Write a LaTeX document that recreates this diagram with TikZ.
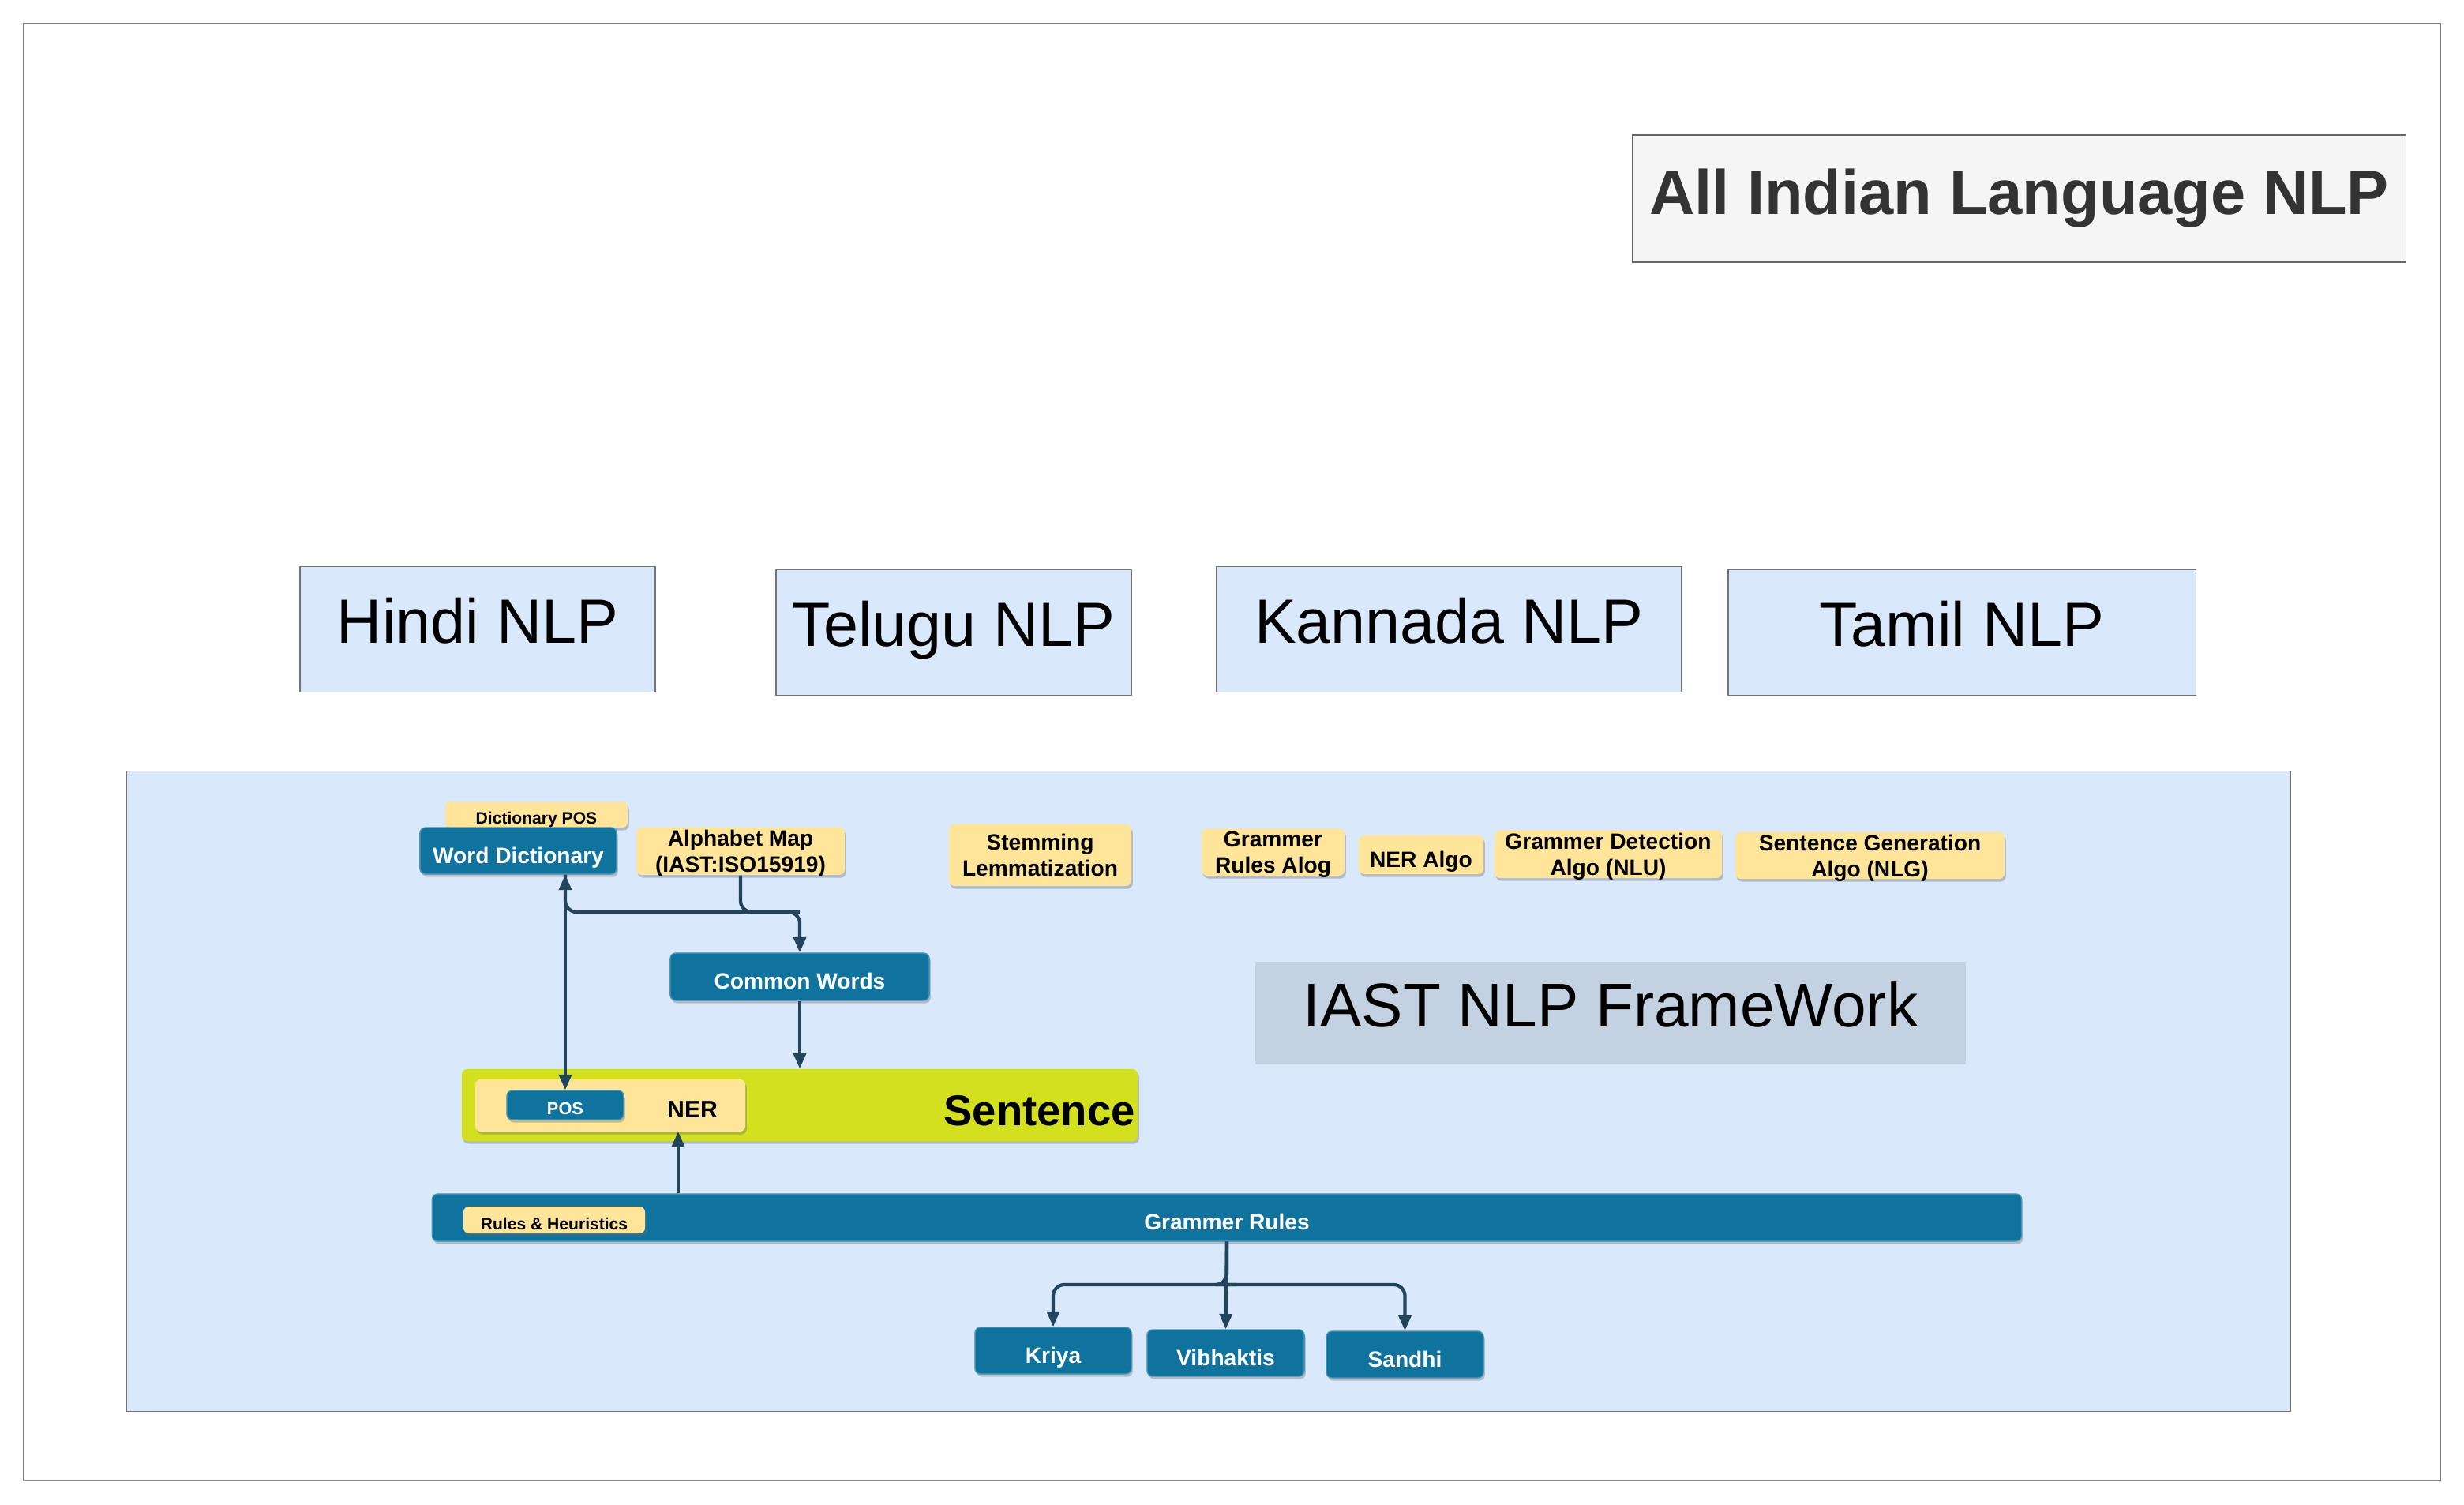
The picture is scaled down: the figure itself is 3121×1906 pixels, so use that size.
\documentclass[tikz,border=0pt]{standalone}
\usepackage{fontspec}
\setmainfont{Liberation Sans}
\definecolor{blockColor}{HTML}{10739E}
\definecolor{noteColor}{HTML}{FFE599}
\definecolor{langColor}{HTML}{DAE8FC}
\definecolor{sentenceColor}{HTML}{D3E01F}
\definecolor{pathColor}{HTML}{23445D}
\definecolor{labelColor}{HTML}{C4D1E1}
\definecolor{titleColor}{HTML}{F5F5F5}
\usetikzlibrary{arrows.meta, shadows}
\tikzset{
    softShadow/.style = {drop shadow={shadow xshift=0.5pt, shadow yshift=-1pt, fill=black!60, opacity=0.35}},
    blockNode/.style = {rectangle, rounded corners=2pt, draw=blockColor!75!white, fill=blockColor, text=white, softShadow, align=center, inner sep=0pt, text height=9pt, text depth=0pt, font=\bfseries\fontsize{8}{9.5}\selectfont},
    noteNode/.style = {blockNode, draw=none, fill=noteColor, text=black, font=\bfseries\fontsize{8}{9.4}\selectfont},
    multiNoteNode/.style = {noteNode, text height=, text depth=-1.6pt},
    tinyNoteNode/.style = {noteNode, text height=7pt, font=\bfseries\fontsize{6}{7}\selectfont},
    langNode/.style = {rectangle, draw=black!55, fill=langColor, inner sep=0pt, text height=16.2pt, text depth=6.2pt, font=\fontsize{22.5}{27}\selectfont},
    defaultPath/.style = {-{Triangle[length=5.5pt, width=4.5pt]}, draw=pathColor, line width=1.2pt, rounded corners=4pt},
    twoWayPath/.style = {defaultPath, {Triangle[length=5.5pt, width=4.5pt]}-{Triangle[length=5.5pt, width=4.5pt]}}
}
\begin{document}
\begin{tikzpicture}[x=0.01cm, y=-0.01cm]
    \useasboundingbox (0,0) rectangle (3121,1906);
    \fill[white] (0,0) rectangle (3121,1906);
    \draw[black!50, line width=0.6pt] (30,30) rectangle (3091,1875);
    \node(title)[rectangle, draw=black!60, fill=titleColor, text=black!80, minimum width=9.79cm, minimum height=1.61cm, font=\bfseries\fontsize{22.6}{27}\selectfont] at (2557.5,251.5){All Indian Language NLP};
    \node(hindi)[langNode, minimum width=4.5cm, minimum height=1.59cm] at (605,797){Hindi NLP};
    \node(telugu)[langNode, minimum width=4.5cm, minimum height=1.59cm] at (1208,801){Telugu NLP};
    \node(kannada)[langNode, minimum width=5.89cm, minimum height=1.59cm] at (1835.5,797){Kannada NLP};
    \node(tamil)[langNode, minimum width=5.92cm, minimum height=1.59cm] at (2485,801){Tamil NLP};
    \node(frameWork)[rectangle, draw=black!55, fill=langColor, minimum width=27.39cm, minimum height=8.1cm] at (1530.5,1382){};
    \node(iastLabel)[langNode, draw=none, fill=labelColor, minimum width=9cm, minimum height=1.3cm, font=\fontsize{22.3}{27}\selectfont] at (2040,1283){IAST NLP FrameWork};
    \node(dictPos)[tinyNoteNode, minimum width=2.31cm, minimum height=0.33cm] at (679.5,1031.5){Dictionary POS};
    \node(wordDict)[blockNode, minimum width=2.49cm, minimum height=0.59cm] at (656.5,1077.5){Word Dictionary};
    \node(alphabetMap)[multiNoteNode, minimum width=2.64cm, minimum height=0.6cm] at (938,1078){Alphabet Map\\(IAST:ISO15919)};
    \node(stemming)[multiNoteNode, minimum width=2.31cm, minimum height=0.78cm] at (1317.5,1083){Stemming\\Lemmatization};
    \node(grammerAlgo)[multiNoteNode, minimum width=1.81cm, minimum height=0.6cm] at (1612.5,1079){Grammer\\Rules Alog};
    \node(nerAlgo)[noteNode, minimum width=1.58cm, minimum height=0.49cm] at (1800,1082.5){NER Algo};
    \node(grammerDetect)[multiNoteNode, minimum width=2.88cm, minimum height=0.6cm] at (2037,1082){Grammer Detection\\Algo (NLU)};
    \node(sentenceGen)[multiNoteNode, minimum width=3.41cm, minimum height=0.59cm] at (2368.5,1083.5){Sentence Generation\\Algo (NLG)};
    \node(commonWords)[blockNode, minimum width=3.28cm, minimum height=0.6cm] at (1013,1237){Common Words};
    \node(sentence)[blockNode, draw=none, fill=sentenceColor, minimum width=8.56cm, minimum height=0.91cm, label={[anchor=east, inner sep=1pt, yshift=-2pt, font=\bfseries\fontsize{15.5}{18}\selectfont]east:Sentence}] at (1013,1399.5){};
    \node(nerBox)[noteNode, minimum width=3.42cm, minimum height=0.66cm, text width=2.72cm, align=right, font=\bfseries\fontsize{8.6}{10}\selectfont] at (773,1400){NER};
    \node(pos)[blockNode, minimum width=1.48cm, minimum height=0.37cm, text height=7pt, font=\bfseries\fontsize{6.2}{7}\selectfont] at (716,1399.5){POS};
    \node(grammerRules)[blockNode, minimum width=20.12cm, minimum height=0.6cm] at (1554,1542){Grammer Rules};
    \node(rulesHeur)[tinyNoteNode, minimum width=2.3cm, minimum height=0.34cm] at (702,1545){Rules \& Heuristics};
    \node(kriya)[blockNode, minimum width=1.98cm, minimum height=0.59cm] at (1334,1710.5){Kriya};
    \node(vibhaktis)[blockNode, minimum width=1.99cm, minimum height=0.59cm] at (1552.5,1713.5){Vibhaktis};
    \node(sandhi)[blockNode, minimum width=1.99cm, minimum height=0.59cm] at (1779.5,1715.5){Sandhi};
    \coordinate(mapJoin) at (938,1155);
    \coordinate(nerIn) at (859,1433);
    \coordinate(ruleSplit) at (1553,1627);
    \path[twoWayPath] (pos.north) to (pos.north |- wordDict.south);
    \path[defaultPath] (pos.north |- wordDict.south) |- (mapJoin) -| (commonWords.north);
    \path[draw=pathColor, line width=1.2pt, rounded corners=4pt] (alphabetMap.south) |- (commonWords.north |- mapJoin);
    \path[defaultPath] (commonWords.south) to (commonWords.south |- sentence.north);
    \path[defaultPath] (nerIn |- grammerRules.north) to (nerIn);
    \foreach \target in {kriya, sandhi}
        \path[defaultPath] (grammerRules.south) |- (ruleSplit) -| (\target.north);
    \path[defaultPath] (grammerRules.south) to (vibhaktis.north);
\end{tikzpicture}
\end{document}
